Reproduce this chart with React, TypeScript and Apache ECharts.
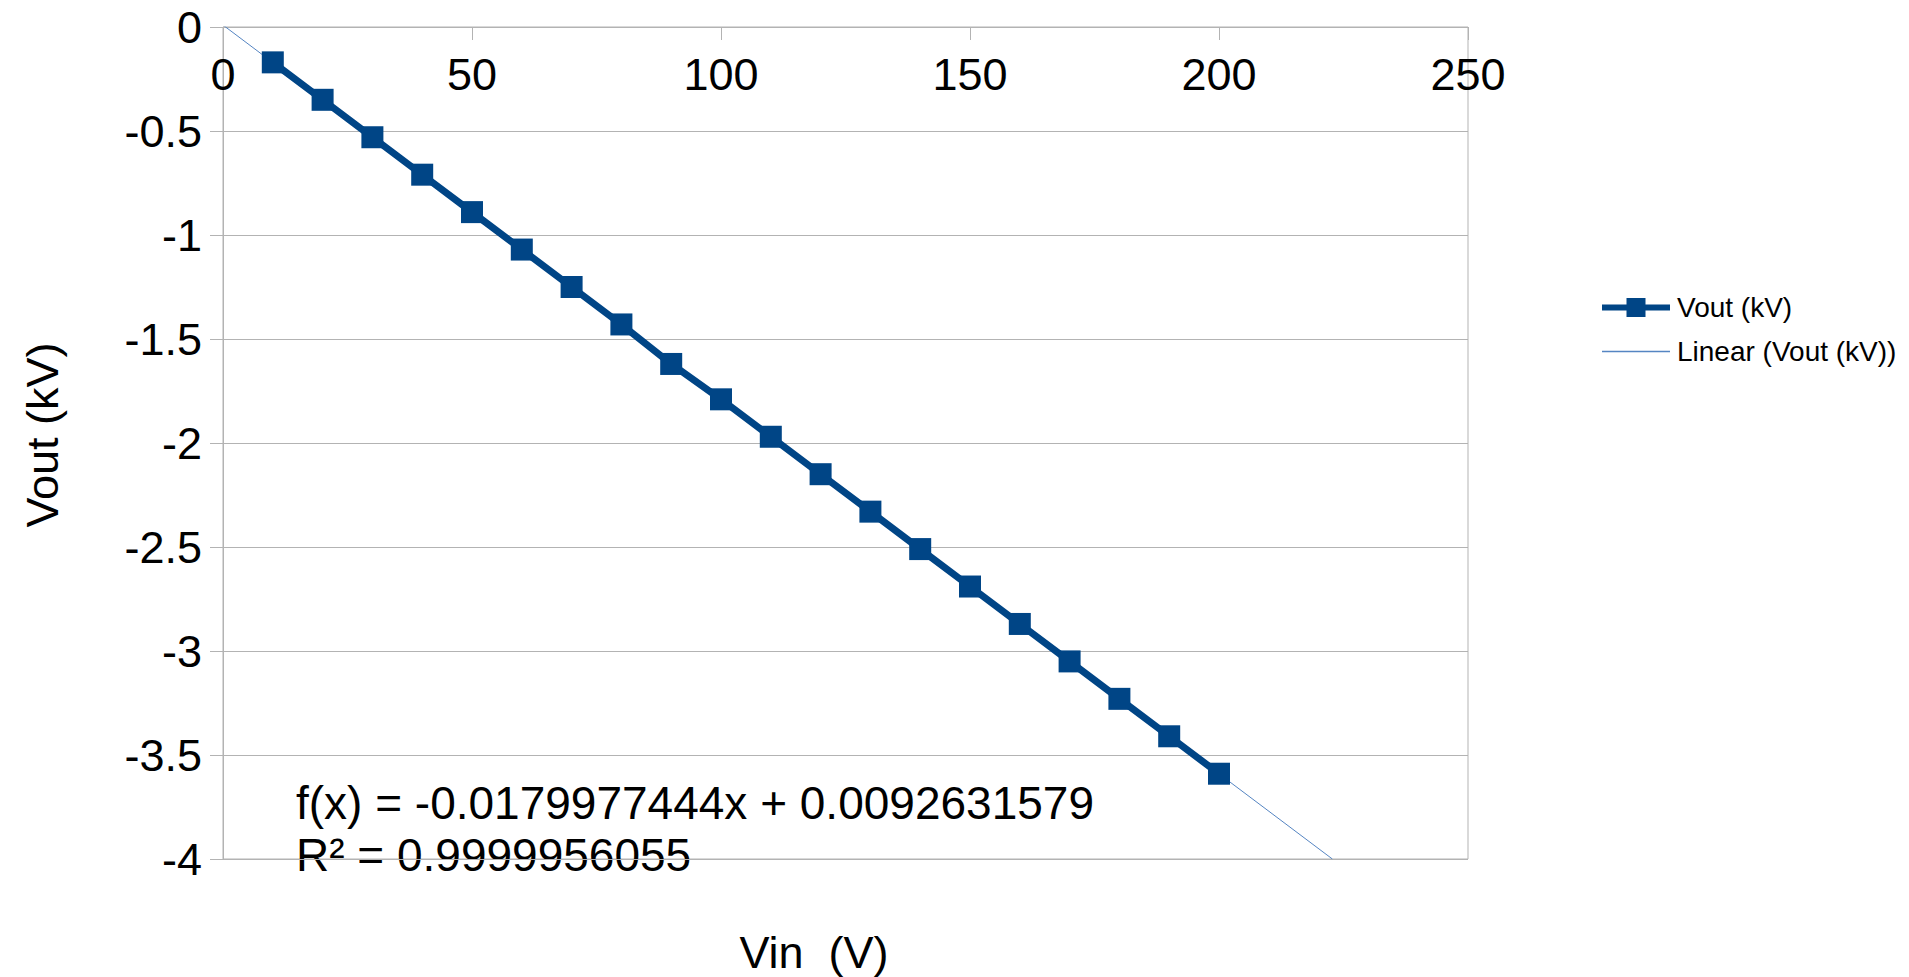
import React, { useEffect, useRef } from "react";
import * as echarts from "echarts";

const vin = [10, 20, 30, 40, 50, 60, 70, 80, 90, 100, 110, 120, 130, 140, 150, 160, 170, 180, 190, 200];
const vout = [-0.17, -0.35, -0.53, -0.71, -0.89, -1.07, -1.25, -1.43, -1.62, -1.79, -1.97, -2.15, -2.33, -2.51, -2.69, -2.87, -3.05, -3.23, -3.41, -3.59];
const slope = -0.0179977444;
const intercept = 0.0092631579;
const rSquared = "0.9999956055";
const xRange = [0, 250];
const yRange = [-4, 0];
const seriesName = "Vout (kV)";
const trendName = "Linear (Vout (kV))";
const xTitle = "Vin  (V)";
const yTitle = "Vout (kV)";

const FONT = "'Liberation Sans', Arial, sans-serif";
const SERIES_COLOR = "#004586";
const TREND_COLOR = "#5585c2";

export default function App() {
  const ref = useRef<HTMLDivElement>(null);
  useEffect(() => {
    document.body.style.margin = "0";
    const chart = echarts.init(ref.current!, undefined, { renderer: "svg" });
    const trendEndX = (yRange[0] - intercept) / slope;
    const trend = [
      [xRange[0], intercept],
      [trendEndX, yRange[0]],
    ];
    const gray = "#b3b3b3";
    chart.setOption({
      animation: false,
      backgroundColor: "#ffffff",
      textStyle: { fontFamily: FONT },
      grid: {
        left: 223,
        top: 27,
        right: 1909 - 1468,
        bottom: 977 - 859,
        show: true,
        borderColor: gray,
        borderWidth: 1,
        containLabel: false,
      },
      xAxis: {
        type: "value",
        position: "top",
        min: xRange[0],
        max: xRange[1],
        interval: 50,
        axisLine: { show: true, onZero: false, lineStyle: { color: gray, width: 1 } },
        axisTick: { show: true, inside: true, length: 13, lineStyle: { color: gray } },
        axisLabel: {
          inside: true,
          margin: 25,
          color: "#000",
          fontSize: 45,
          fontFamily: FONT,
          showMinLabel: true,
          showMaxLabel: true,
        },
        splitLine: { show: false },
      },
      yAxis: {
        type: "value",
        min: yRange[0],
        max: yRange[1],
        interval: 0.5,
        axisLine: { show: true, onZero: false, lineStyle: { color: gray, width: 1 } },
        axisTick: { show: true, inside: false, length: 13, lineStyle: { color: gray } },
        axisLabel: { margin: 21, color: "#000", fontSize: 45, fontFamily: FONT },
        splitLine: { show: true, lineStyle: { color: gray, width: 1 } },
      },
      legend: {
        orient: "vertical",
        left: 1597,
        top: 287,
        itemWidth: 68,
        itemHeight: 20,
        itemGap: 13,
        textStyle: { fontSize: 28, color: "#000", fontFamily: FONT, padding: [0, 0, 0, 2], lineHeight: 31 },
        data: [
          {
            name: seriesName,
            icon: "path://M0,7H24.5V0.5H43.5V7H68V13H43.5V19.5H24.5V13H0Z",
            itemStyle: { color: SERIES_COLOR },
          },
          {
            name: trendName,
            icon: "path://M0,9.3H68V10.7H0Z",
            itemStyle: { color: TREND_COLOR },
          },
        ],
      },
      series: [
        {
          name: seriesName,
          type: "line",
          data: vin.map((x, i) => [x, vout[i]]),
          symbol: "rect",
          symbolSize: 22,
          showSymbol: true,
          lineStyle: { color: SERIES_COLOR, width: 7 },
          itemStyle: { color: SERIES_COLOR },
          z: 3,
        },
        {
          name: trendName,
          type: "line",
          data: trend,
          symbol: "none",
          showSymbol: false,
          lineStyle: { color: TREND_COLOR, width: 1 },
          itemStyle: { color: TREND_COLOR },
          z: 2,
        },
      ],
      graphic: [
        {
          type: "text",
          left: 296,
          top: 777,
          style: {
            text: `f(x) = ${slope.toFixed(10)}x + ${intercept.toFixed(10)}\nR² = ${rSquared}`,
            font: `46px ${FONT}`,
            fill: "#000",
            lineHeight: 52,
          },
        },
        {
          type: "text",
          x: 814,
          y: 952,
          style: {
            text: xTitle,
            font: `45px ${FONT}`,
            fill: "#000",
            align: "center",
            verticalAlign: "middle",
          },
        },
        {
          type: "text",
          x: 42,
          y: 435,
          rotation: Math.PI / 2,
          style: {
            text: yTitle,
            font: `45px ${FONT}`,
            fill: "#000",
            align: "center",
            verticalAlign: "middle",
          },
        },
      ],
    });
    return () => chart.dispose();
  }, []);
  return (
    <div
      ref={ref}
      style={{ position: "fixed", left: 0, top: 0, width: 1909, height: 977 }}
    />
  );
}
